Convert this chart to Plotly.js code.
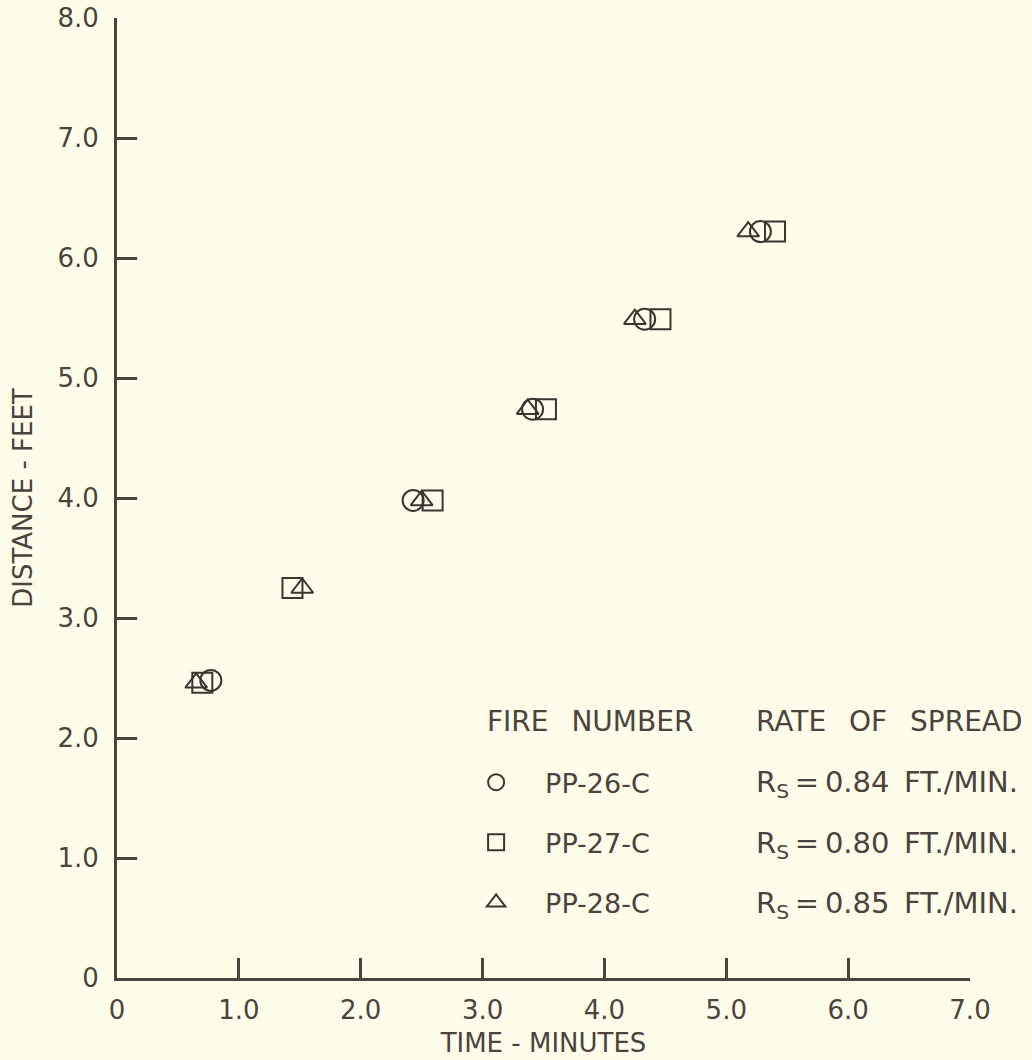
<!DOCTYPE html>
<html>
<head>
<meta charset="utf-8">
<script src="https://cdn.plot.ly/plotly-3.0.1.min.js"></script>
<style>html,body{margin:0;padding:0;background:#fdfde9;}#chart{width:1032px;height:1060px;}</style>
</head>
<body>
<div id="chart"></div>
<script>
// Data
const fireNames = ["PP-26-C", "PP-27-C", "PP-28-C"];
const rateLabels = ["R<sub>S</sub>\u2009=\u20090.84\u2002FT./MIN.", "R<sub>S</sub>\u2009=\u20090.80\u2002FT./MIN.", "R<sub>S</sub>\u2009=\u20090.85\u2002FT./MIN."];
const headerFire = "FIRE\u2002\u00a0NUMBER";
const headerRate = "RATE\u2002\u00a0OF\u2002\u00a0SPREAD";
const pp26Time = [0.77, 2.43, 3.41, 4.33, 5.28];
const pp26Dist = [2.48, 3.98, 4.74, 5.49, 6.22];
const pp27Time = [0.70, 1.44, 2.59, 3.52, 4.46, 5.40];
const pp27Dist = [2.46, 3.25, 3.98, 4.74, 5.49, 6.22];
const pp28Time = [0.65, 1.52, 2.50, 3.37, 4.25, 5.18];
const pp28Dist = [2.46, 3.25, 3.98, 4.74, 5.49, 6.22];
const xTickVals = [0, 1, 2, 3, 4, 5, 6, 7];
const xTickText = ["0", "1.0", "2.0", "3.0", "4.0", "5.0", "6.0", "7.0"];
const yTickVals = [0, 1, 2, 3, 4, 5, 6, 7, 8];
const yTickText = ["0", "1.0", "2.0", "3.0", "4.0", "5.0", "6.0", "7.0", "8.0"];

const ink = "#4b433c";
const markInk = "#3b3530";
const bg = "#fdfde9";
const fontFam = "'DejaVu Sans', 'Noto Sans', sans-serif";

function series(x, y, name, symbol, size, i) {
  return {
    type: "scatter", mode: "markers", x: x, y: y, name: name,
    legendgroup: "g" + i,
    marker: {symbol: symbol, size: size, color: "rgba(0,0,0,0)", line: {color: markInk, width: 2}},
    cliponaxis: false
  };
}

const traces = [
  series(pp26Time, pp26Dist, fireNames[0], "circle", 21, 0),
  series(pp27Time, pp27Dist, fireNames[1], "square", 20, 1),
  series(pp28Time, pp28Dist, fireNames[2], "triangle-up", 19, 2)
];

const annotations = [
  {xref: "paper", yref: "paper", x: 0.4314, y: 0.2667, xanchor: "left", yanchor: "middle",
   text: headerFire, showarrow: false, font: {family: fontFam, size: 28, color: ink}},
  {xref: "paper", yref: "paper", x: 0.747, y: 0.2667, xanchor: "left", yanchor: "middle",
   text: headerRate, showarrow: false, font: {family: fontFam, size: 28, color: ink}}
];
const rateY = [0.202, 0.139, 0.076];
rateLabels.forEach(function (t, i) {
  annotations.push({xref: "paper", yref: "paper", x: 0.747, y: rateY[i], xanchor: "left", yanchor: "middle",
    text: t, showarrow: false, font: {family: fontFam, size: 29, color: ink}});
});

const layout = {
  width: 1032, height: 1060,
  paper_bgcolor: bg, plot_bgcolor: bg,
  margin: {l: 117, r: 62, t: 18, b: 82},
  font: {family: fontFam, size: 26, color: ink},
  showlegend: true,
  legend: {
    x: 0.387, y: 0.229, xanchor: "left", yanchor: "top",
    bgcolor: "rgba(0,0,0,0)", borderwidth: 0,
    font: {family: fontFam, size: 27, color: ink},
    traceorder: "grouped", tracegroupgap: 22, itemwidth: 88
  },
  xaxis: {
    range: [0, 7], tickvals: xTickVals, ticktext: xTickText,
    showgrid: false, zeroline: false, showline: true, linecolor: ink, linewidth: 3,
    ticks: "inside", ticklen: 20, tickwidth: 3, tickcolor: ink,
    ticklabelstandoff: 7,
    tickfont: {family: fontFam, size: 26, color: ink},
    title: {text: "TIME - MINUTES", font: {family: fontFam, size: 26, color: ink}, standoff: 10},
    fixedrange: true
  },
  yaxis: {
    range: [0, 8], tickvals: yTickVals, ticktext: yTickText,
    showgrid: false, zeroline: false, showline: true, linecolor: ink, linewidth: 3,
    ticks: "inside", ticklen: 20, tickwidth: 3, tickcolor: ink,
    ticklabelstandoff: 10,
    tickfont: {family: fontFam, size: 26, color: ink},
    title: {text: "DISTANCE - FEET", font: {family: fontFam, size: 26, color: ink}, standoff: 18},
    fixedrange: true
  },
  annotations: annotations
};

Plotly.newPlot("chart", traces, layout, {displayModeBar: false, staticPlot: true});
</script>
</body>
</html>
